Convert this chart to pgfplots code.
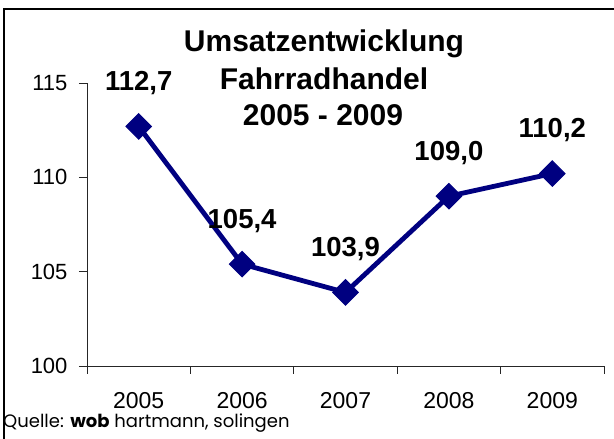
\documentclass[border=0pt]{standalone}
\usepackage{fontspec}
\setmainfont{Liberation Sans}
\newfontfamily\quellefont{Poppins}
\usepackage{pgfplots}
\usepackage{pgfplotstable}
\pgfplotsset{compat=1.18}
\definecolor{navy}{RGB}{0,0,128}

\pgfplotstableread{
x y lab
0 112.7 112,7
1 105.4 105,4
2 103.9 103,9
3 109.0 109,0
4 110.2 110,2
}\datatable

\begin{document}
\begin{tikzpicture}[x=1pt,y=1pt]
\useasboundingbox (0,0) rectangle (614,439);
\draw[line width=1.2pt] (4,0) -- (4,430) -- (614,430);
\begin{axis}[
  at={(87pt,73pt)}, anchor=south west,
  scale only axis, width=517pt, height=283pt,
  xmin=-0.5, xmax=4.5, ymin=100, ymax=115,
  axis x line=bottom, axis y line=left,
  axis line style={-, line width=0.9pt, black!85},
  every tick/.style={black!85, line width=0.9pt},
  tick align=outside, major tick length=8pt,
  xtick={-0.5,0.5,1.5,2.5,3.5,4.5},
  x tick label as interval,
  xticklabels={2005,2006,2007,2008,2009},
  ytick={100,105,110,115},
  /pgf/number format/assume math mode=true,
  xticklabel style={font=\fontsize{23}{23}\selectfont, yshift=-15pt},
  yticklabel style={font=\fontsize{22}{22}\selectfont, xshift=-8pt},
  clip=false,
]
\addplot[navy, line width=4.8pt, mark=square*, mark size=9pt,
  mark options={rotate=45, line width=1pt, fill=navy},
  nodes near coords, point meta=explicit symbolic,
  every node near coord/.append style={font=\bfseries\fontsize{27.5}{27.5}\selectfont,
    text=black, anchor=base, yshift=36pt, inner sep=0pt}]
  table[x=x, y=y, meta=lab] {\datatable};
\end{axis}
\begin{scope}[font=\bfseries\fontsize{30}{30}\selectfont]
\node[anchor=base] at (324,387) {Umsatzentwicklung};
\node[anchor=base] at (324,349) {Fahrradhandel};
\node[anchor=base] at (323,313.5) {2005 - 2009};
\end{scope}
\node[anchor=base west, inner sep=0pt] at (3,11) {\quellefont\fontsize{18}{18}\selectfont Quelle: \textbf{wob} hartmann, solingen};
\end{tikzpicture}
\end{document}
